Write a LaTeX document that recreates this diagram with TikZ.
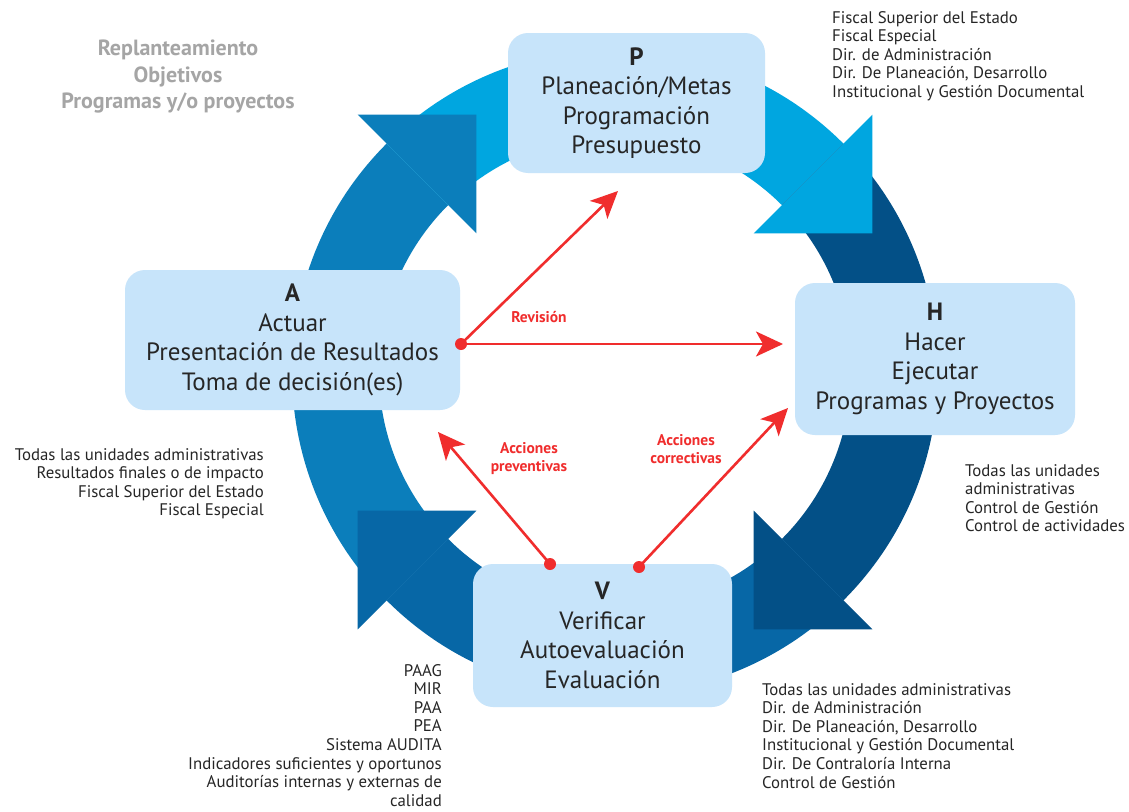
\documentclass[tikz,border=0pt]{standalone}
\usepackage{fontspec}
\setmainfont{PT Sans}
\usepackage{tikz}
\usetikzlibrary{arrows.meta}

\definecolor{apblue}{RGB}{11,126,187}
\definecolor{phblue}{RGB}{0,166,224}
\definecolor{hvblue}{RGB}{3,80,135}
\definecolor{vablue}{RGB}{7,103,166}
\definecolor{boxblue}{RGB}{199,228,250}
\definecolor{arrowred}{RGB}{240,45,45}
\definecolor{notegray}{RGB}{165,165,165}

\begin{document}
\begin{tikzpicture}
    [
        x=1pt, y=-1pt,
        phase_box/.style={fill=boxblue, rounded corners=20pt, align=center, inner sep=0pt, font=\fontsize{25}{29.5}\selectfont, text=black!85},
        side_note/.style={inner sep=0pt, font=\fontsize{16.8}{18.6}\selectfont, text=black!85},
        gray_note/.style={inner sep=0pt, align=center, text=notegray, font=\bfseries\fontsize{22}{26.5}\selectfont},
        red_note/.style={align=center, inner sep=0pt, text=arrowred, font=\bfseries\fontsize{15.5}{18}\selectfont},
        red_dot/.style={circle, fill=arrowred, inner sep=0pt, minimum size=12pt},
        red_arrow/.style={-{Stealth[length=27pt, width=25pt, inset=7pt]}, line width=2.6pt, color=arrowred},
    ]
        \fill[white] (0,0) rectangle (1129,811);
        \useasboundingbox (0,0) rectangle (1129,811);

        % ring of the cycle
        \begin{scope}[shift={(615,372)}]
            \fill[apblue] (135:323) arc[start angle=135, end angle=225, radius=323] -- (225:236) arc[start angle=225, end angle=135, radius=236] -- cycle;
            \fill[phblue] (225:323) arc[start angle=225, end angle=315, radius=323] -- (315:236) arc[start angle=315, end angle=225, radius=236] -- cycle;
            \fill[hvblue] (315:323) arc[start angle=315, end angle=405, radius=323] -- (405:236) arc[start angle=405, end angle=315, radius=236] -- cycle;
            \fill[vablue] (45:323) arc[start angle=45, end angle=135, radius=323] -- (135:236) arc[start angle=135, end angle=45, radius=236] -- cycle;
            % heads
            \fill[apblue] (225:364) -- (241.7:292.3) -- (225:196) -- cycle;
            \fill[phblue] (315:364) -- (331.7:292.3) -- (315:196) -- cycle;
            \fill[hvblue] (45:364) -- (61.7:292.3) -- (45:196) -- cycle;
            \fill[vablue] (135:364) -- (151.7:292.3) -- (135:196) -- cycle;
        \end{scope}

        \node[phase_box, minimum width=257pt, minimum height=140pt] (plan) at (636.5,103) {\textbf{P}\\Planeación/Metas\\Programación\\Presupuesto};
        \node[phase_box, minimum width=280pt, minimum height=152pt] (hacer) at (935,359) {\textbf{H}\\Hacer\\Ejecutar\\Programas y Proyectos};
        \node[phase_box, minimum width=335pt, minimum height=140pt] (actuar) at (292.5,340) {\textbf{A}\\Actuar\\Presentación de Resultados\\Toma de decisión(es)};
        \node[phase_box, minimum width=259pt, minimum height=143pt] (verif) at (602.5,635.5) {\textbf{V}\\Verificar\\Autoevaluación\\Evaluación};

        % red arrows
        \node[red_dot] (dRev) at (461,344) {};
        \node[red_dot] (dPrev) at (550,564) {};
        \node[red_dot] (dCorr) at (639,567) {};
        \coordinate (tipPlan) at (618,191);
        \coordinate (tipHacer) at (783,344);
        \coordinate (tipActuar) at (438,432);
        \coordinate (tipCorr) at (788,408);
        \draw[red_arrow] (dRev.center) -- (tipPlan);
        \draw[red_arrow] (dRev.center) -- (tipHacer);
        \draw[red_arrow] (dPrev.center) -- (tipActuar);
        \draw[red_arrow] (dCorr.center) -- (tipCorr);
        \node[red_note] (revision) at (539,317) {Revisión};
        \node[red_note] (preventivas) at (529,459) {Acciones\\preventivas};
        \node[red_note] (correctivas) at (686,449) {Acciones\\correctivas};

        % notes
        \node[gray_note, anchor=north] (replant) at (178,40) {Replanteamiento\\Objetivos\\Programas y/o proyectos};
        \node[side_note, anchor=north west, align=left] (notePlan) at (832,11) {Fiscal Superior del Estado\\Fiscal Especial\\Dir. de Administración\\Dir. De Planeación, Desarrollo\\Institucional y Gestión Documental};
        \node[side_note, anchor=north east, align=right] (noteActuar) at (264,448) {Todas las unidades administrativas\\Resultados finales o de impacto\\Fiscal Superior del Estado\\Fiscal Especial};
        \node[side_note, anchor=north west, align=left] (noteHacer) at (965,464) {Todas las unidades\\administrativas\\Control de Gestión\\Control de actividades};
        \node[side_note, anchor=north west, align=left] (noteVerif) at (762,683) {Todas las unidades administrativas\\Dir. de Administración\\Dir. De Planeación, Desarrollo\\Institucional y Gestión Documental\\Dir. De Contraloría Interna\\Control de Gestión};
        \node[side_note, anchor=north east, align=right] (noteAudit) at (442,664) {PAAG\\MIR\\PAA\\PEA\\Sistema AUDITA\\Indicadores suficientes y oportunos\\Auditorías internas y externas de\\calidad};
    \end{tikzpicture}
\end{document}
